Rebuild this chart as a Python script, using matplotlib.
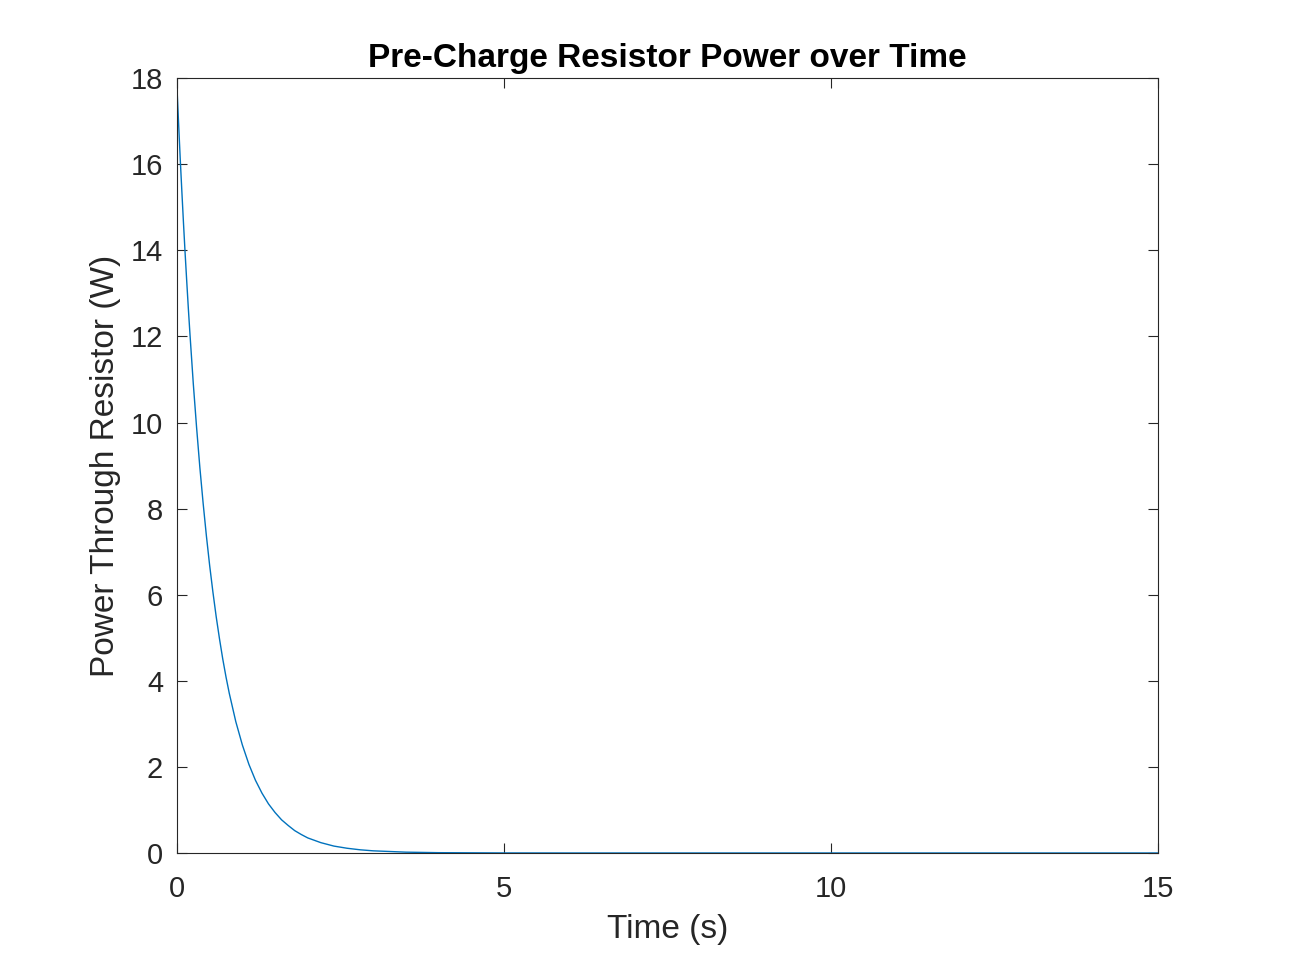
import matplotlib.pyplot as plt

# Values
time_s = [0, 0.025, 0.05, 0.075, 0.1, 0.125, 0.15, 0.175, 0.2, 0.25, 0.3, 0.35, 0.4,
          0.45, 0.5, 0.55, 0.6, 0.65, 0.7, 0.75, 0.8, 0.9, 1.0, 1.1, 1.2, 1.3, 1.4,
          1.5, 1.6, 1.7, 1.8, 1.9, 2.0, 2.2, 2.4, 2.6, 2.8, 3.0, 3.5, 4.0, 5.0, 6.0, 15.0]
power_w = [17.8, 16.95, 16.13, 15.37, 14.63, 13.93, 13.27, 12.63, 12.03, 10.9, 9.89, 8.96, 8.13,
           7.37, 6.68, 6.06, 5.49, 4.98, 4.51, 4.09, 3.71, 3.05, 2.51, 2.06, 1.69, 1.39, 1.14,
           0.94, 0.77, 0.64, 0.52, 0.43, 0.35, 0.24, 0.16, 0.11, 0.074, 0.05, 0.019, 0.007, 0.001, 0.0, 0.0]

x_ticks = [0, 5, 10, 15]
y_ticks = [0, 2, 4, 6, 8, 10, 12, 14, 16, 18]

plt.rcParams['font.family'] = ['Liberation Sans', 'DejaVu Sans']
axis_color = '#262626'

fig = plt.figure(figsize=(13.04, 9.66), dpi=100)
ax = fig.add_axes([0.1357, 0.117, 0.7523, 0.802])

ax.plot(time_s, power_w, color='#0072BD', linewidth=1.0)

ax.set_xlim(0, 15)
ax.set_ylim(0, 18)
ax.set_xticks(x_ticks)
ax.set_yticks(y_ticks)

ax.tick_params(direction='in', top=True, right=True, length=7, width=0.8,
               colors=axis_color, labelsize=21)
ax.tick_params(axis='x', pad=16)
ax.tick_params(axis='y', pad=10)
for spine in ax.spines.values():
    spine.set_color(axis_color)
    spine.set_linewidth(0.8)

ax.set_xlabel('Time (s)', fontsize=24, color=axis_color, labelpad=8)
ax.set_ylabel('Power Through Resistor (W)', fontsize=24, color=axis_color, labelpad=7)
ax.set_title('Pre-Charge Resistor Power over Time', fontsize=24, fontweight='bold',
             color='black', pad=8)

fig.savefig('out.png', dpi=100)
